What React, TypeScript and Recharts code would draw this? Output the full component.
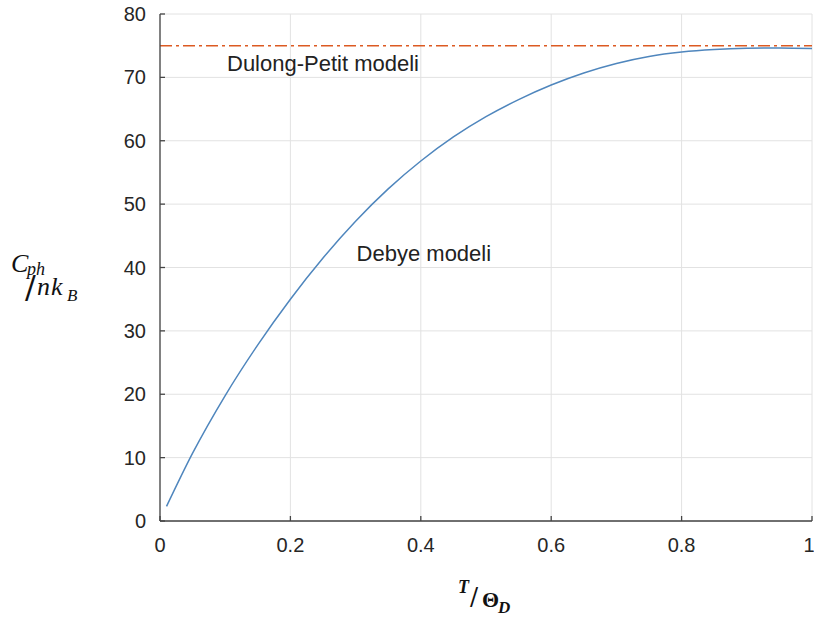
import React from 'react';
import {
  LineChart,
  Line,
  XAxis,
  YAxis,
  CartesianGrid,
  ReferenceLine,
  ReferenceDot,
  Label,
} from 'recharts';

// T / Theta_D samples and the Debye heat capacity
const tRatio = [
  0.01, 0.05, 0.1, 0.15, 0.2, 0.25, 0.3, 0.35, 0.4, 0.45, 0.5,
  0.55, 0.6, 0.65, 0.7, 0.75, 0.8, 0.85, 0.9, 0.95, 1.0,
];
const debyeCph = [
  2.3, 10.7, 19.8, 27.8, 35.0, 41.5, 47.3, 52.4, 56.8, 60.6, 63.8,
  66.5, 68.8, 70.7, 72.2, 73.3, 74.0, 74.4, 74.6, 74.65, 74.55,
];
const dulongPetit = 75;

const xTicks = [0, 0.2, 0.4, 0.6, 0.8, 1];
const yTicks = [0, 10, 20, 30, 40, 50, 60, 70, 80];

const data = tRatio.map((t, i) => ({ t, cph: debyeCph[i] }));

const frameColor = '#454545';
const sans = "'Liberation Sans', Arial, sans-serif";
const serif = "'Liberation Serif', 'Times New Roman', serif";
const slashFont = "'DejaVu Serif', serif";

const tickStyle = { fill: '#262626', fontSize: 20, fontFamily: sans };

// C_ph / nk_B
const YTitle = () => (
  <g fill="#111" fontFamily={serif}>
    <text x={11} y={272} fontSize={26} fontStyle="italic">C</text>
    <text x={27} y={275} fontSize={18} fontStyle="italic">ph</text>
    <text x={25} y={298} fontSize={32} fontFamily={slashFont}>/</text>
    <text x={37} y={295} fontSize={26} fontStyle="italic">n</text>
    <text x={51} y={295} fontSize={26} fontStyle="italic">k</text>
    <text x={67} y={301} fontSize={17} fontStyle="italic">B</text>
  </g>
);

// T / Theta_D
const XTitle = () => (
  <g fill="#111" fontFamily={serif} fontWeight="bold">
    <text x={458} y={593} fontSize={18} fontStyle="italic">T</text>
    <text x={470} y={605} fontSize={24} fontWeight="normal" fontFamily={slashFont}>/</text>
    <text x={482} y={607} fontSize={22}>Θ</text>
    <text x={498} y={613} fontSize={17} fontStyle="italic">D</text>
  </g>
);

export default function App() {
  return (
    <div style={{ position: 'absolute', left: 0, top: 0, background: '#fff' }}>
      <LineChart
        width={814}
        height={620}
        data={data}
        margin={{ top: 14, right: 2, left: 100, bottom: 59 }}
      >
        <CartesianGrid stroke="#e2e2e2" strokeWidth={1} />
        <XAxis
          dataKey="t"
          type="number"
          domain={[0, 1]}
          ticks={xTicks}
          tick={tickStyle}
          tickSize={-5}
          tickMargin={22}
          height={40}
          stroke={frameColor}
          strokeWidth={1.3}
        >
          <Label content={() => <XTitle />} />
        </XAxis>
        <XAxis
          xAxisId="top"
          orientation="top"
          dataKey="t"
          type="number"
          domain={[0, 1]}
          ticks={xTicks}
          tick={false}
          tickSize={-5}
          height={0}
          stroke={frameColor}
          strokeWidth={1.3}
        />
        <YAxis
          type="number"
          domain={[0, 80]}
          ticks={yTicks}
          tick={tickStyle}
          tickSize={-5}
          tickMargin={19}
          width={60}
          stroke={frameColor}
          strokeWidth={1.3}
        >
          <Label content={() => <YTitle />} />
        </YAxis>
        <YAxis
          yAxisId="right"
          orientation="right"
          type="number"
          domain={[0, 80]}
          ticks={yTicks}
          tick={false}
          tickSize={-5}
          width={0}
          stroke={frameColor}
          strokeWidth={1.3}
        />
        <ReferenceLine
          y={dulongPetit}
          stroke="#dc5a22"
          strokeWidth={1.5}
          strokeDasharray="12 4 3 4"
          label={(p: any) => (
            <text
              x={p.viewBox.x + 67}
              y={p.viewBox.y + 25}
              fontSize={22}
              fontFamily={sans}
              fill="#222"
            >
              Dulong-Petit modeli
            </text>
          )}
        />
        <ReferenceDot
          x={0.3}
          y={41}
          r={0}
          stroke="none"
          fill="none"
          label={(p: any) => (
            <text
              x={p.viewBox.x + 1}
              y={p.viewBox.y}
              fontSize={22}
              fontFamily={sans}
              fill="#222"
            >
              Debye modeli
            </text>
          )}
        />
        <Line
          type="monotone"
          dataKey="cph"
          stroke="#4f86bd"
          strokeWidth={1.5}
          dot={false}
          isAnimationActive={false}
        />
      </LineChart>
    </div>
  );
}
